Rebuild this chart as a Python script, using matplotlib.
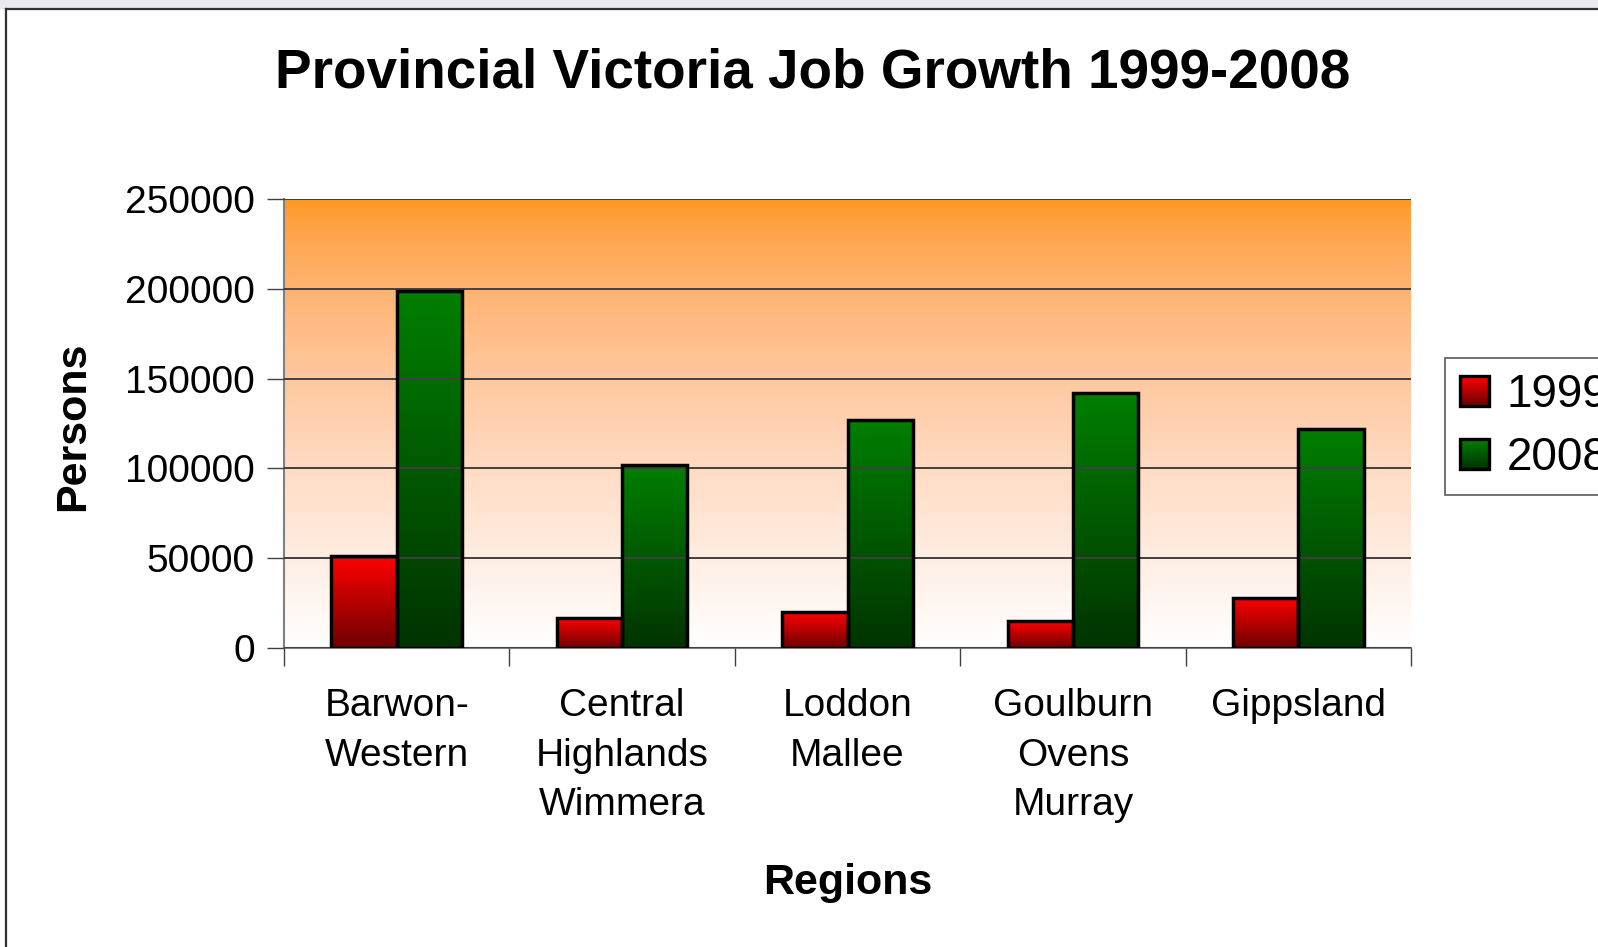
import numpy as np
import matplotlib
matplotlib.use("Agg")
import matplotlib.pyplot as plt
from matplotlib.patches import Rectangle
from matplotlib.lines import Line2D
from matplotlib.legend_handler import HandlerBase

plt.rcParams['font.family'] = ['Liberation Sans', 'DejaVu Sans']

# data
regions = ['Barwon-\nWestern', 'Central\nHighlands\nWimmera', 'Loddon\nMallee',
           'Goulburn\nOvens\nMurray', 'Gippsland']
jobs_1999 = [51000, 16500, 19900, 15000, 28000]
jobs_2008 = [199000, 101900, 127000, 141800, 121900]
series = ['1999', '2008']
yticks = [0, 50000, 100000, 150000, 200000, 250000]

# gradient colours (top, bottom)
red_grad = ((1.0, 0.0, 0.0), (0.43, 0.0, 0.0))
green_grad = ((0.0, 0.50, 0.0), (0.0, 0.20, 0.0))
bg_grad = ((1.0, 0.60, 0.10), (1.0, 1.0, 1.0))


def grad_img(top, bottom, n=256, gamma=(1.0, 1.0, 1.0)):
    t = np.linspace(0, 1, n)[:, None]
    tt = np.hstack([t ** g for g in gamma])
    top = np.array(top)
    bottom = np.array(bottom)
    img = top + (bottom - top) * tt
    return img[:, None, :]


class GradHandler(HandlerBase):
    def __init__(self, top, bottom):
        super().__init__()
        self.top = np.array(top)
        self.bottom = np.array(bottom)

    def create_artists(self, legend, orig_handle, xdescent, ydescent,
                       width, height, fontsize, trans):
        arts = []
        n = 20
        for k in range(n):
            c = self.top + (self.bottom - self.top) * (k / (n - 1))
            y0 = -ydescent + height * (1 - (k + 1) / n)
            r = Rectangle((-xdescent, y0), width, height / n + 0.3,
                          facecolor=c, edgecolor='none', transform=trans)
            arts.append(r)
        arts.append(Rectangle((-xdescent, -ydescent), width, height,
                              facecolor='none', edgecolor='black', lw=2.4,
                              transform=trans))
        return arts


fig = plt.figure(figsize=(15.98, 9.47), dpi=100)
ax = fig.add_axes([284 / 1598, 1 - 648 / 947, 1127 / 1598, 449 / 947])

x = np.arange(len(regions))
w = 0.29
ax.set_xlim(-0.5, len(regions) - 0.5)
ax.set_ylim(0, 250000)

# plot area gradient
ax.imshow(grad_img(*bg_grad, gamma=(1.0, 0.85, 0.6)),
          extent=(-0.5, len(regions) - 0.5, 0, 250000),
          aspect='auto', zorder=0)

bars1 = ax.bar(x - w / 2, jobs_1999, w, facecolor='none', edgecolor='black',
               linewidth=2.5, zorder=3, label=series[0])
bars2 = ax.bar(x + w / 2, jobs_2008, w, facecolor='none', edgecolor='black',
               linewidth=2.5, zorder=3, label=series[1])

for bars, g in [(bars1, red_grad), (bars2, green_grad)]:
    for b in bars:
        x0, h = b.get_x(), b.get_height()
        im = ax.imshow(grad_img(*g), extent=(x0, x0 + b.get_width(), 0, h),
                       aspect='auto', zorder=2)
        im.set_clip_path(b)

ax.set_yticks(yticks)
ax.set_yticklabels([str(v) for v in yticks], fontsize=28)
ax.grid(axis='y', color='#404040', linewidth=1.4, zorder=1)
ax.set_axisbelow(False)
for gl in ax.get_ygridlines():
    gl.set_zorder(1)

ax.set_xticks(x)
ax.set_xticklabels(regions, fontsize=28, linespacing=1.48)
ax.set_xticks(np.arange(-0.5, len(regions)), minor=True)
ax.tick_params(axis='x', which='major', length=0, pad=29)
ax.tick_params(axis='x', which='minor', length=13, width=1, color='#404040')
ax.tick_params(axis='y', length=12, width=1, color='#404040', pad=9)

for s in ['top', 'right']:
    ax.spines[s].set_visible(False)
for s in ['left', 'bottom']:
    ax.spines[s].set_color('#808080')
    ax.spines[s].set_linewidth(1.5)

fig.text(813 / 1598, 1 - 74 / 947, 'Provincial Victoria Job Growth 1999-2008',
         fontsize=39.5, fontweight='bold', ha='center', va='center')
fig.text(73 / 1598, 1 - 426 / 947, 'Persons', fontsize=31, fontweight='bold',
         rotation=90, ha='center', va='center')
fig.text(848 / 1598, 1 - 883 / 947, 'Regions', fontsize=31, fontweight='bold',
         ha='center', va='center')

leg = ax.legend(handles=[bars1, bars2], labels=series,
                handler_map={bars1: GradHandler(*red_grad),
                             bars2: GradHandler(*green_grad)},
                loc='upper left', bbox_to_anchor=(1445 / 1598, 1 - 358 / 947),
                bbox_transform=fig.transFigure, borderaxespad=0,
                fontsize=33, handlelength=0.62, handleheight=0.62,
                handletextpad=0.4, labelspacing=0.42, borderpad=0.33,
                fancybox=False, frameon=True)
leg.get_frame().set_edgecolor('#303030')
leg.get_frame().set_linewidth(1.2)

# slide background strip and border
fig.patches.append(Rectangle((0, 1 - 9 / 947), 1, 9 / 947, transform=fig.transFigure,
                             facecolor='#ECE8F0', edgecolor='none'))
fig.lines.append(Line2D([6 / 1598, 6 / 1598], [0, 1 - 9.5 / 947], transform=fig.transFigure,
                        color='#303030', lw=1.6))
fig.lines.append(Line2D([6 / 1598, 1], [1 - 9.5 / 947, 1 - 9.5 / 947], transform=fig.transFigure,
                        color='#303030', lw=1.6))

fig.savefig('out.png', dpi=100)
